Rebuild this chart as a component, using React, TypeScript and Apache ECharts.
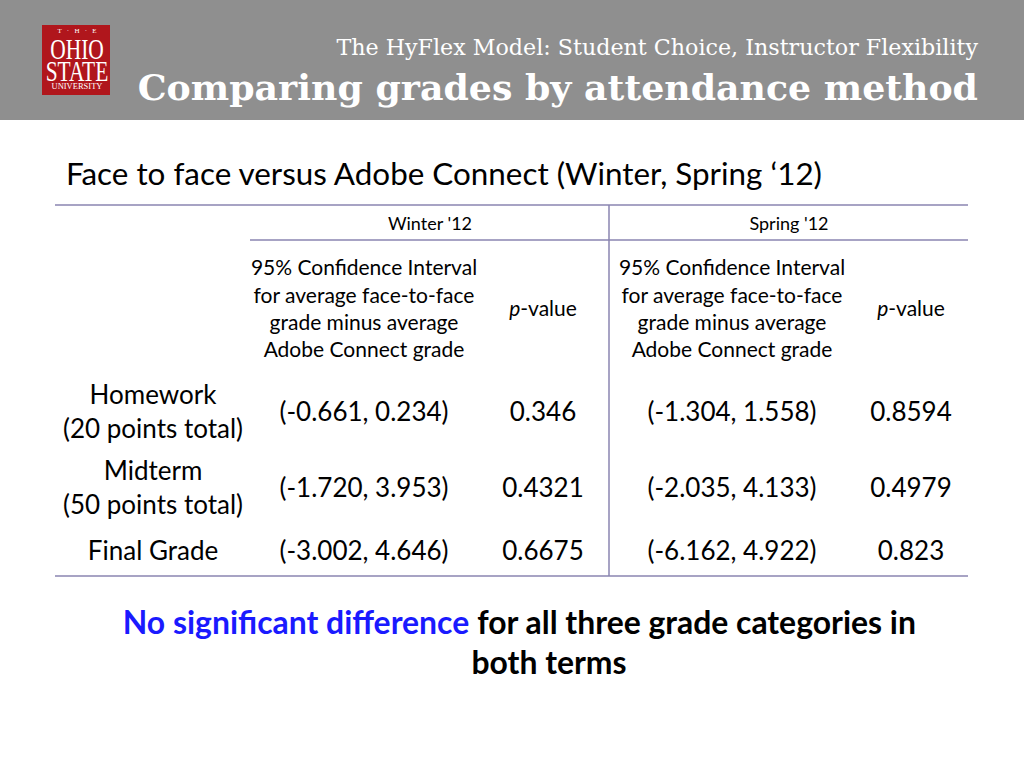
import React, { useEffect, useRef } from "react";
import * as echarts from "echarts";

const titleSmall = "The HyFlex Model: Student Choice, Instructor Flexibility";
const titleBig = "Comparing grades by attendance method";
const subtitle = "Face to face versus Adobe Connect (Winter, Spring \u201812)";
const terms = ["Winter '12", "Spring '12"];
const ciHeader = ["95% Confidence Interval", "for average face-to-face", "grade minus average", "Adobe Connect grade"];
const rowLabels = [["Homework", "(20 points total)"], ["Midterm", "(50 points total)"], ["Final Grade"]];
const winterCI = ["(-0.661, 0.234)", "(-1.720, 3.953)", "(-3.002, 4.646)"];
const winterP = ["0.346", "0.4321", "0.6675"];
const springCI = ["(-1.304, 1.558)", "(-2.035, 4.133)", "(-6.162, 4.922)"];
const springP = ["0.8594", "0.4979", "0.823"];

const SANS = "Lato, 'Noto Sans', sans-serif";
const SERIF = "'DejaVu Serif', Georgia, serif";
const LSERIF = "'Liberation Serif', serif";
const LINE = "#8a84b0";

export default function App() {
  const ref = useRef<HTMLDivElement>(null);
  useEffect(() => {
    const chart = echarts.init(ref.current!, null, { renderer: "svg" });
    const els: any[] = [];
    const txt = (x: number, y: number, text: string, size: number, opts: any = {}, extra: any = {}) =>
      els.push({
        type: "text",
        x,
        y,
        ...extra,
        style: {
          text,
          fontSize: size,
          fontFamily: SANS,
          fill: "#000",
          align: "center",
          verticalAlign: "middle",
          ...opts,
        },
      });
    // header
    els.push({ type: "rect", shape: { x: 0, y: 0, width: 1024, height: 120 }, style: { fill: "#8f8f8f" } });
    els.push({ type: "rect", shape: { x: 42, y: 25, width: 68, height: 70 }, style: { fill: "#b0161c" } });
    txt(77, 31, "T   \u00b7   H   \u00b7   E", 7, { fill: "#fff", fontFamily: LSERIF });
    txt(77, 60.5, "OHIO\nSTATE", 29, { fill: "#fff", fontFamily: LSERIF, lineHeight: 22 }, { scaleX: 0.74 });
    txt(77, 86, "UNIVERSITY", 8.5, { fill: "#fff", fontFamily: LSERIF });
    txt(978, 47, titleSmall, 22.2, { fill: "#fff", fontFamily: SERIF, align: "right" });
    txt(978, 87, titleBig, 36.3, { fill: "#fff", fontFamily: SERIF, fontWeight: "bold", align: "right" });

    txt(66, 173, subtitle, 31.4, { align: "left" });

    // lines
    const line = (x1: number, y1: number, x2: number, y2: number) =>
      els.push({ type: "line", shape: { x1, y1, x2, y2 }, style: { stroke: LINE, lineWidth: 1.5 } });
    line(55, 205, 968, 205);
    line(250, 240, 968, 240);
    line(609, 205, 609, 576);
    line(55, 576, 968, 576);

    txt(430, 223, terms[0], 18);
    txt(789, 223, terms[1], 18);
    const hdrY = [266, 294, 321, 348];
    ciHeader.forEach((t, i) => {
      txt(364, hdrY[i], t, 21);
      txt(732, hdrY[i], t, 21);
    });
    [543, 911].forEach((x) =>
      els.push({
        type: "text",
        x,
        y: 307,
        style: {
          text: "{i|p}-value",
          fontSize: 21,
          fontFamily: SANS,
          fill: "#000",
          align: "center",
          verticalAlign: "middle",
          rich: { i: { fontStyle: "italic", fontSize: 21, fontFamily: SANS } },
        },
      })
    );

    const rowY = [411, 487, 550];
    rowLabels.forEach((lbls, i) => {
      if (lbls.length === 2) {
        txt(153, rowY[i] - 17, lbls[0], 26);
        txt(153, rowY[i] + 17, lbls[1], 26);
      } else txt(153, rowY[i], lbls[0], 26);
      txt(364, rowY[i], winterCI[i], 26);
      txt(543, rowY[i], winterP[i], 26);
      txt(732, rowY[i], springCI[i], 26);
      txt(911, rowY[i], springP[i], 26);
    });

    els.push({
      type: "text",
      x: 519.5,
      y: 622,
      style: {
        text: "{b|No significant difference} for all three grade categories in",
        fontSize: 31.9,
        fontWeight: "bold",
        fontFamily: SANS,
        fill: "#000",
        align: "center",
        verticalAlign: "middle",
        rich: { b: { fill: "#1a1aff", fontSize: 31.9, fontWeight: "bold", fontFamily: SANS } },
      },
    });
    txt(549, 662, "both terms", 31.9, { fontWeight: "bold" });

    chart.setOption({ animation: false, graphic: { elements: els } });
    return () => chart.dispose();
  }, []);
  return (
    <div
      ref={ref}
      style={{ position: "fixed", left: 0, top: 0, width: 1024, height: 768, background: "#fff" }}
    />
  );
}
